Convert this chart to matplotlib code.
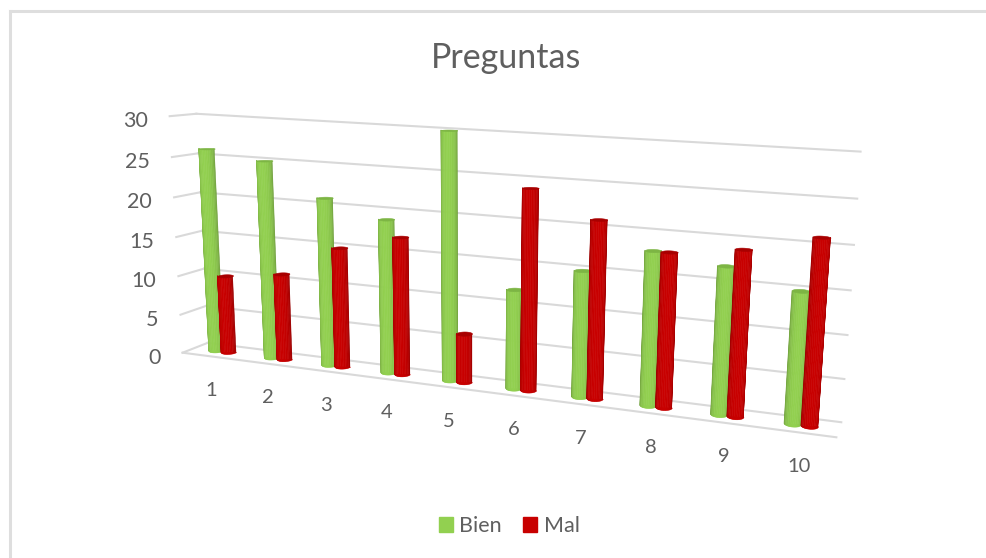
import numpy as np
import matplotlib
matplotlib.use('Agg')
import matplotlib.pyplot as plt
from matplotlib.colors import to_rgb
from matplotlib.lines import Line2D
from matplotlib.patches import Patch
from mpl_toolkits.mplot3d import proj3d
from mpl_toolkits.mplot3d.art3d import Poly3DCollection

categories = ['1', '2', '3', '4', '5', '6', '7', '8', '9', '10']
bien = [26, 25, 21, 19, 30, 12, 15, 18, 17, 15]
mal = [10, 11, 15, 17, 6, 24, 21, 18, 19, 21]
z_ticks = [0, 5, 10, 15, 20, 25, 30]

GREEN = '#92D050'
RED = '#C80000'
GRID = '#D9D9D9'
TEXT = '#5F5F5F'

plt.rcParams['font.family'] = ['Lato', 'DejaVu Sans']

fig = plt.figure(figsize=(9.87, 5.58), dpi=100)
# only the top and left edge of the chart frame show in the screenshot
fig.add_artist(Line2D([9.5 / 987, 1], [1 - 11 / 558, 1 - 11 / 558], color='#DEDEDE', lw=2.2))
fig.add_artist(Line2D([9.5 / 987, 9.5 / 987], [0, 1 - 11 / 558], color='#DEDEDE', lw=2.2))

# big square axes, centre of it sits where the view axis of the original hits
S = 1000
ax = fig.add_axes([114.5 / 987, -212.5 / 558, S / 987, S / 558], projection='3d', computed_zorder=False)
ax.set_proj_type('persp', focal_length=0.2022)
ax.view_init(elev=11.5, azim=-73.5, roll=-1.68)
ax.set_xlim(0.5, 14.4)
ax.set_ylim(0, 2)
ax.set_zlim(0, 33)
box = (1.86, 0.16, 0.535)
ax.set_box_aspect(box, zoom=np.linalg.norm(box) / 1.9057)
ax.set_axis_off()
ax.patch.set_alpha(0)

x0, x1 = 0.5, 10.5
yf, yb = 0.0, 1.0


def label(x, y, z, txt, dx, dy, size, ha):
    # plain 2d text placed next to a projected 3d point, offset in pixels
    px, py, _ = proj3d.proj_transform(x, y, z, ax.get_proj())
    ax.annotate(txt, (px, py), xytext=(dx * 0.72, -dy * 0.72), textcoords='offset points', fontsize=size,
                color=TEXT, ha=ha, va='center')


for v in z_ticks:
    ax.plot([x0, x1], [yb, yb], [v, v], color=GRID, lw=1.5, zorder=1)
    ax.plot([x0, x0], [yf, yb], [v, v], color=GRID, lw=1.5, zorder=1)
    label(x0, yf, v, str(v), -22, 5, 15.5, 'right')
ax.plot([x0, x1], [yf, yf], [0, 0], color=GRID, lw=1.5, zorder=1)

# cylinder radius, y unit is wider in data than x unit
rx = 0.112
ry = rx * (box[0] / 13.9) / (box[1] / 2)
view = np.radians(-73.5)
# only the half facing the camera, overlapping strokes of a full tube make the edges jagged
th = np.linspace(view - np.pi / 2, view + np.pi / 2, 15)
th_mid = (th[:-1] + th[1:]) / 2
th_cap = np.linspace(0, 2 * np.pi, 41)


def shaded(color, dark):
    base = np.array(to_rgb(color))
    face = np.clip(np.cos(th_mid - view), 0, 1) ** 0.4
    fac = dark + (1 - dark) * face
    return np.array([np.append(base * f, 1) for f in fac]).reshape(1, -1, 4)


def cylinder(xc, height, color, capcolor, dark, z):
    X = xc + rx * np.cos(th)
    Y = 0.5 + ry * np.sin(th)
    XX = np.vstack([X, X])
    YY = np.vstack([Y, Y])
    ZZ = np.vstack([np.zeros_like(X), np.full_like(X, height)])
    surf = ax.plot_surface(XX, YY, ZZ, facecolors=shaded(color, dark), shade=False, rstride=1, cstride=1,
                           linewidth=0.4, antialiased=True, zorder=z)
    surf.set_snap(False)
    Xc = xc + rx * np.cos(th_cap)
    Yc = 0.5 + ry * np.sin(th_cap)
    cap = Poly3DCollection([list(zip(Xc, Yc, np.full_like(Xc, height)))], facecolors=capcolor, edgecolors=capcolor,
                           linewidths=0.4, zorder=z + 0.1)
    cap.set_snap(False)
    ax.add_collection3d(cap)
    bottom = np.linspace(view - np.pi / 2, view + np.pi / 2, 21)
    rim = Poly3DCollection([list(zip(xc + rx * np.cos(bottom), 0.5 + ry * np.sin(bottom), np.zeros_like(bottom)))],
                           facecolors=color, edgecolors=color, linewidths=0.4, zorder=z - 0.1)
    rim.set_snap(False)
    ax.add_collection3d(rim)


for i, cat in enumerate(categories):
    xc = i + 1
    cylinder(xc - rx, bien[i], GREEN, '#7DB544', 0.6, 10 + 2 * i)
    cylinder(xc + rx, mal[i], RED, '#A80000', 0.6, 11 + 2 * i)
    label(xc, yf, 0, cat, 1, 34, 14.5, 'center')

fig.text(506 / 987, 1 - 58 / 558, 'Preguntas', fontsize=24.5, color=TEXT, ha='center', va='center')
fig.legend(handles=[Patch(color=GREEN, label='Bien'), Patch(color=RED, label='Mal')], ncols=2, frameon=False,
           loc='center', bbox_to_anchor=(509 / 987, 1 - 526 / 558), fontsize=15.5, labelcolor=TEXT,
           handlelength=0.65, handleheight=0.65, handletextpad=0.3, columnspacing=1.0)

fig.savefig('out.png', dpi=100)
